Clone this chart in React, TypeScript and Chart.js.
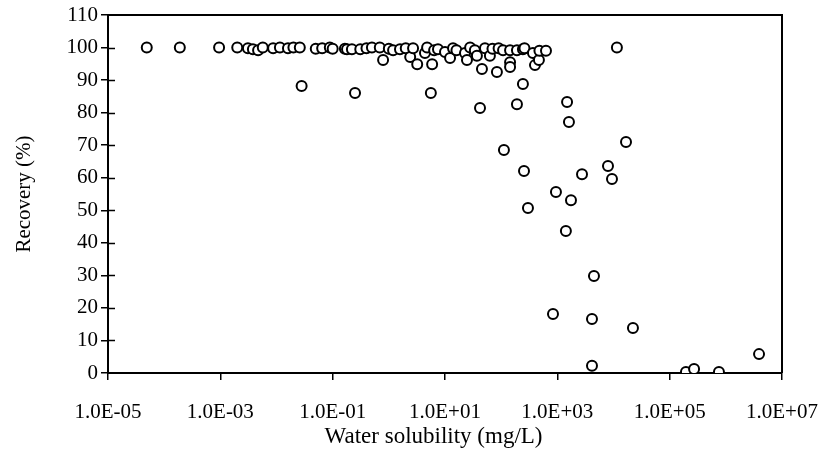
import { useEffect, useRef } from "react";
import { Chart, registerables } from "chart.js";

Chart.register(...registerables);

// Water solubility of each compound (mg/L)
const solubility = [
  4.9e-5, 1.9e-4, 9.5e-4, 2.0e-3, 3.1e-3, 3.8e-3, 4.7e-3, 5.7e-3, 8.7e-3, 1.15e-2,
  1.6e-2, 2.0e-2, 2.6e-2, 2.8e-2, 5.0e-2, 6.5e-2, 8.9e-2, 0.1, 0.165, 0.18,
  0.22, 0.25, 0.31, 0.4, 0.5, 0.69, 0.79, 1.0, 1.19, 1.58,
  2.0, 2.4, 2.7, 3.2, 4.4, 4.8, 5.6, 5.9, 6.4, 7.5,
  10, 12.3, 13.9, 16, 22.7, 24.6, 28, 34, 37, 42,
  45.5, 51.5, 63, 70, 84, 90, 108, 112, 144, 144,
  144, 191, 191, 244, 244, 255, 260, 300, 368, 400,
  470, 480, 628, 837, 945, 1420, 1490, 1610, 1750, 2750,
  4140, 4140, 4490, 7980, 9400, 11500, 16700, 22200, 195000, 272000,
  754000, 3.9e6,
];

// Recovery measured for each compound (%)
const recovery = [
  100, 100, 100, 100, 99.8, 99.5, 99.2, 100, 99.8, 100,
  99.8, 100, 100, 88.2, 99.6, 99.8, 100, 99.6, 99.6, 99.5,
  99.5, 86, 99.5, 99.8, 100, 100, 96.2, 99.6, 99.2, 99.5,
  99.8, 97.1, 99.8, 94.9, 98.3, 100, 86, 94.9, 99.2, 99.5,
  98.6, 96.8, 99.8, 99.2, 98.3, 96.2, 100, 99.2, 97.5, 81.4,
  93.4, 99.8, 97.5, 99.6, 92.5, 99.8, 99.2, 68.5, 99.2, 95.5,
  94, 99.2, 82.6, 99.5, 88.8, 62.1, 99.8, 50.7, 98.3, 94.6,
  96.2, 99, 99, 18.1, 55.6, 43.6, 83.3, 77.1, 53.1, 61.1,
  16.6, 2.2, 29.8, 63.6, 59.6, 100, 71, 13.8, 0.3, 1.2,
  0.3, 5.8,
];

const xTickValues = [1e-5, 1e-3, 1e-1, 1e1, 1e3, 1e5, 1e7];
const xTickLabels = ["1.0E-05", "1.0E-03", "1.0E-01", "1.0E+01", "1.0E+03", "1.0E+05", "1.0E+07"];
const yMin = 0;
const yMax = 110;
const yStep = 10;

const xTitle = "Water solubility (mg/L)";
const yTitle = "Recovery (%)";

const FONT = "'Liberation Serif', 'Times New Roman', serif";

// Closes the plot frame (top and right), adds the inner half of each y tick,
// and writes the x-axis title a little left of the plot centre
const framePlugin = {
  id: "frame",
  afterDraw(chart: any) {
    const { ctx, chartArea } = chart;
    const y = chart.scales.y;
    ctx.save();
    ctx.strokeStyle = "#000";
    ctx.lineWidth = 2;
    ctx.beginPath();
    ctx.moveTo(chartArea.left, chartArea.top);
    ctx.lineTo(chartArea.right, chartArea.top);
    ctx.lineTo(chartArea.right, chartArea.bottom);
    ctx.stroke();
    ctx.lineWidth = 1.5;
    ctx.beginPath();
    for (let v = yMin + yStep; v <= yMax - yStep; v += yStep) {
      const py = Math.round(y.getPixelForValue(v)) + 0.5;
      ctx.moveTo(chartArea.left, py);
      ctx.lineTo(chartArea.left + 7, py);
    }
    ctx.stroke();

    ctx.fillStyle = "#000";
    ctx.font = `23px ${FONT}`;
    ctx.textAlign = "center";
    ctx.textBaseline = "middle";
    ctx.fillText(xTitle, chartArea.left + (chartArea.right - chartArea.left) * 0.483, 437);
    ctx.restore();
  },
};

export default function App() {
  const canvasRef = useRef<HTMLCanvasElement>(null);

  useEffect(() => {
    if (!canvasRef.current) return;
    const points = solubility.map((x, i) => ({ x, y: recovery[i] }));
    const chart = new Chart(canvasRef.current, {
      type: "scatter",
      data: {
        datasets: [
          {
            data: points,
            pointStyle: "circle",
            pointRadius: 5,
            pointHoverRadius: 5,
            pointBackgroundColor: "#fff",
            pointBorderColor: "#000",
            pointBorderWidth: 2,
          },
        ],
      },
      options: {
        animation: false,
        responsive: false,
        devicePixelRatio: 1,
        layout: { padding: { left: 0, top: 15, right: 44, bottom: 0 } },
        plugins: {
          legend: { display: false },
          tooltip: { enabled: false },
        },
        scales: {
          x: {
            type: "logarithmic",
            min: 1e-5,
            max: 1e7,
            afterBuildTicks: (scale: any) => {
              scale.ticks = xTickValues.map((value) => ({ value }));
            },
            afterFit: (scale: any) => {
              scale.height = 101;
              scale.paddingLeft = 0;
              scale.paddingRight = 0;
            },
            border: { display: true, color: "#000", width: 2 },
            grid: {
              display: true,
              drawOnChartArea: false,
              drawTicks: true,
              tickLength: 7,
              color: "#000",
              lineWidth: 1.5,
            },
            ticks: {
              autoSkip: false,
              maxRotation: 0,
              padding: 20,
              color: "#000",
              font: { family: FONT, size: 21 },
              callback: (value: any) => {
                const i = xTickValues.findIndex((t) => Math.abs(Math.log10(t) - Math.log10(Number(value))) < 1e-6);
                return i >= 0 ? xTickLabels[i] : "";
              },
            },
          },
          y: {
            min: yMin,
            max: yMax,
            afterFit: (scale: any) => {
              scale.width = 108;
              scale.paddingTop = 0;
              scale.paddingBottom = 0;
            },
            border: { display: true, color: "#000", width: 2 },
            grid: {
              display: true,
              drawOnChartArea: false,
              drawTicks: true,
              tickLength: 7,
              color: "#000",
              lineWidth: 1.5,
            },
            ticks: {
              stepSize: yStep,
              padding: 3,
              color: "#000",
              font: { family: FONT, size: 21 },
            },
            title: {
              display: true,
              text: yTitle,
              color: "#000",
              font: { family: FONT, size: 21 },
              padding: { top: 12, bottom: 0 },
            },
          },
        },
      },
      plugins: [framePlugin],
    });
    return () => chart.destroy();
  }, []);

  return (
    <div style={{ position: "fixed", left: 0, top: 0, width: 826, height: 474, background: "#fff" }}>
      <canvas ref={canvasRef} width={826} height={474} />
    </div>
  );
}
